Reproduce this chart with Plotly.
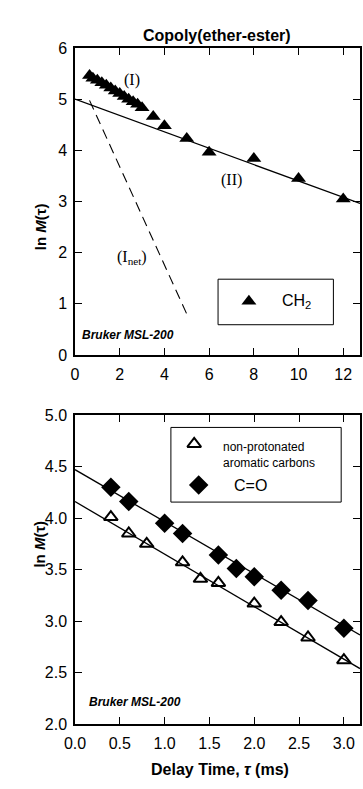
import numpy as np
import plotly.graph_objects as go

# ---- Data (top panel: CH2) ----
ch2_t = [0.65, 0.8, 1.0, 1.2, 1.4, 1.6, 1.8, 2.0, 2.2, 2.4, 2.6, 2.8, 3.0, 3.5, 4.0, 5.0, 6.0, 8.0, 10.0, 12.0]
ch2_lnM = [5.46, 5.41, 5.37, 5.32, 5.27, 5.22, 5.16, 5.11, 5.05, 5.00, 4.95, 4.90, 4.83, 4.66, 4.48, 4.23, 3.96, 3.84, 3.45, 3.05]

# fitted lines (intercept, slope, x-start, x-end)
fit_II = (5.0, -0.16, 0.0, 12.75)
fit_Inet = (5.6, -0.96, 0.65, 5.0)

# ---- Data (bottom panel) ----
np_t = [0.4, 0.6, 0.8, 1.2, 1.4, 1.6, 2.0, 2.3, 2.6, 3.0]
np_lnM = [4.01, 3.85, 3.75, 3.57, 3.41, 3.37, 3.17, 2.99, 2.84, 2.62]
co_t = [0.4, 0.6, 1.0, 1.2, 1.6, 1.8, 2.0, 2.3, 2.6, 3.0]
co_lnM = [4.30, 4.16, 3.95, 3.85, 3.64, 3.51, 3.43, 3.30, 3.20, 2.93]
fit_np = (4.16, -0.51, 0.0, 3.18)
fit_co = (4.47, -0.505, 0.0, 3.18)

top_xticks = [0, 2, 4, 6, 8, 10, 12]
top_yticks = [0, 1, 2, 3, 4, 5, 6]
bot_xticks = [0.0, 0.5, 1.0, 1.5, 2.0, 2.5, 3.0]
bot_yticks = [2.0, 2.5, 3.0, 3.5, 4.0, 4.5, 5.0]

SANS = "Liberation Sans, Arial, sans-serif"
SERIF = "Liberation Serif, Times New Roman, serif"


def line_pts(p):
    a, b, x0, x1 = p
    xs = np.array([x0, x1])
    return xs, a + b * xs


fig = go.Figure()

# Top panel
xs, ys = line_pts(fit_II)
fig.add_trace(go.Scatter(x=xs, y=ys, mode="lines", line=dict(color="black", width=1.3),
                         xaxis="x", yaxis="y", showlegend=False))
xs, ys = line_pts(fit_Inet)
fig.add_trace(go.Scatter(x=xs, y=ys, mode="lines", line=dict(color="black", width=1.1, dash="10px,6px"),
                         xaxis="x", yaxis="y", showlegend=False))
fig.add_trace(go.Scatter(x=ch2_t, y=ch2_lnM, mode="markers",
                         marker=dict(symbol="triangle-up", size=13, color="black"),
                         xaxis="x", yaxis="y", showlegend=False))

# Bottom panel
for p in (fit_np, fit_co):
    xs, ys = line_pts(p)
    fig.add_trace(go.Scatter(x=xs, y=ys, mode="lines", line=dict(color="black", width=1.3),
                             xaxis="x2", yaxis="y2", showlegend=False))
fig.add_trace(go.Scatter(x=np_t, y=np_lnM, mode="markers",
                         marker=dict(symbol="triangle-up-open", size=12, color="black", line=dict(width=2)),
                         xaxis="x2", yaxis="y2", showlegend=False))
fig.add_trace(go.Scatter(x=co_t, y=co_lnM, mode="markers",
                         marker=dict(symbol="diamond", size=15, color="black"),
                         xaxis="x2", yaxis="y2", showlegend=False))

# Legend samples (manual legends)
fig.add_trace(go.Scatter(x=[7.78], y=[1.05], mode="markers",
                         marker=dict(symbol="triangle-up", size=13, color="black"),
                         xaxis="x", yaxis="y", showlegend=False))
fig.add_trace(go.Scatter(x=[1.33], y=[4.72], mode="markers",
                         marker=dict(symbol="triangle-up-open", size=12, color="black", line=dict(width=2)),
                         xaxis="x2", yaxis="y2", showlegend=False))
fig.add_trace(go.Scatter(x=[1.38], y=[4.32], mode="markers",
                         marker=dict(symbol="diamond", size=15, color="black"),
                         xaxis="x2", yaxis="y2", showlegend=False))

axis_common = dict(showline=True, linecolor="black", linewidth=1.5, mirror="ticks",
                   ticks="inside", ticklen=7, tickwidth=1.3, tickcolor="black",
                   showgrid=False, zeroline=False,
                   tickfont=dict(family=SANS, size=16, color="black"))

fig.update_layout(
    width=363, height=789,
    margin=dict(l=75, r=1, t=48, b=65),
    paper_bgcolor="white", plot_bgcolor="white",
    xaxis=dict(range=[0, 12.75], tickvals=top_xticks, anchor="y", ticklabelstandoff=4, **axis_common),
    yaxis=dict(range=[0, 6], tickvals=top_yticks, domain=[0.546, 1.0], anchor="x", ticklabelstandoff=3,
               **axis_common),
    xaxis2=dict(range=[0, 3.18], tickvals=bot_xticks, tickformat=".1f", anchor="y2", ticklabelstandoff=4,
                **axis_common),
    yaxis2=dict(range=[2, 5], tickvals=bot_yticks, tickformat=".1f", domain=[0.0, 0.457], anchor="x2",
                ticklabelstandoff=3, **axis_common),
    shapes=[
        dict(type="rect", xref="x", yref="y", x0=6.4, x1=11.56, y0=0.59, y1=1.48,
             line=dict(color="black", width=1)),
        dict(type="rect", xref="x2", yref="y2", x0=1.07, x1=2.97, y0=4.155, y1=4.88,
             line=dict(color="black", width=1)),
    ],
)

ann = []
ann.append(dict(text="<b>Copoly(ether-ester)</b>", xref="paper", yref="paper", x=0.498, y=1.034,
                showarrow=False, font=dict(family=SANS, size=16, color="black")))
ann.append(dict(text="<b>ln <i>M</i>(τ)</b>", xref="paper", yref="paper", x=-0.16, y=0.774,
                textangle=-90, showarrow=False, font=dict(family=SANS, size=15, color="black")))
ann.append(dict(text="<b>ln <i>M</i>(τ)</b>", xref="paper", yref="paper", x=-0.16, y=0.229,
                textangle=-90, showarrow=False, font=dict(family=SANS, size=15, color="black")))
ann.append(dict(text="<b>Delay Time, <i>τ</i> (ms)</b>", xref="paper", yref="paper", x=0.51, y=-0.083,
                showarrow=False, font=dict(family=SANS, size=16, color="black")))
ann.append(dict(text="(I)", xref="x", yref="y", x=2.53, y=5.37, showarrow=False,
                font=dict(family=SERIF, size=16, color="black")))
ann.append(dict(text="(II)", xref="x", yref="y", x=7.02, y=3.42, showarrow=False,
                font=dict(family=SERIF, size=16, color="black")))
ann.append(dict(text="(I<sub>net</sub>)", xref="x", yref="y", x=2.53, y=1.91, showarrow=False,
                font=dict(family=SERIF, size=16, color="black")))
ann.append(dict(text="<b><i>Bruker MSL-200</i></b>", xref="x", yref="y", x=0.22, y=0.39,
                xanchor="left", showarrow=False, font=dict(family=SANS, size=12, color="black")))
ann.append(dict(text="<b><i>Bruker MSL-200</i></b>", xref="x2", yref="y2", x=0.13, y=2.21,
                xanchor="left", showarrow=False, font=dict(family=SANS, size=12, color="black")))
ann.append(dict(text="CH<sub>2</sub>", xref="x", yref="y", x=9.9, y=1.05, showarrow=False,
                font=dict(family=SANS, size=16, color="black")))
ann.append(dict(text="non-protonated", xref="x2", yref="y2", x=1.63, y=4.69, xanchor="left",
                showarrow=False, font=dict(family=SANS, size=12, color="black")))
ann.append(dict(text="aromatic carbons", xref="x2", yref="y2", x=1.63, y=4.53, xanchor="left",
                showarrow=False, font=dict(family=SANS, size=12, color="black")))
ann.append(dict(text="C=O", xref="x2", yref="y2", x=1.75, y=4.32, xanchor="left",
                showarrow=False, font=dict(family=SANS, size=16, color="black")))
fig.update_layout(annotations=ann)

fig.write_html("out.html")
